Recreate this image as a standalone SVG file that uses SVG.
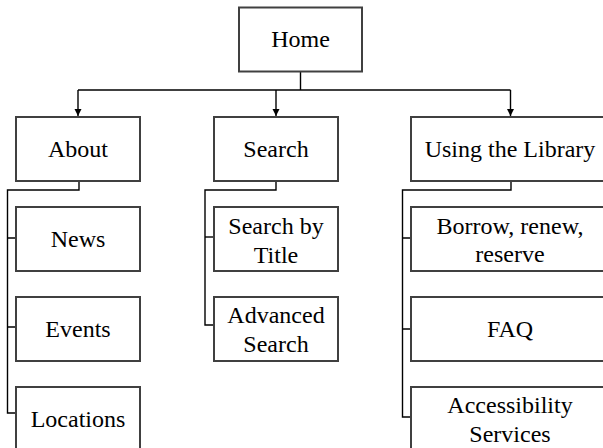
<svg xmlns="http://www.w3.org/2000/svg" width="603" height="448" viewBox="0 0 603 448">
<defs>
<style>
.box{fill:#fff;stroke:#404040;stroke-width:2}
.lbl{font-family:"Liberation Serif","Times New Roman",serif;font-size:24px;fill:#000;text-anchor:middle}
.conn{fill:none;stroke:#000;stroke-width:1.4}
</style>
<marker id="arr" viewBox="0 0 10 10" refX="10" refY="5" markerWidth="7" markerHeight="10" markerUnits="userSpaceOnUse" orient="auto">
<path d="M0,0 L10,5 L0,10 Z" fill="#000"/>
</marker>
</defs>
<rect width="603" height="448" fill="#fff"/>
<g id="connectors">
<path class="conn" d="M300.5,72 V90"/>
<path class="conn" d="M78,90 H510.5"/>
<path class="conn" d="M78,90 V116" marker-end="url(#arr)"/>
<path class="conn" d="M276,90 V116" marker-end="url(#arr)"/>
<path class="conn" d="M510.5,90 V116" marker-end="url(#arr)"/>
<path class="conn" d="M79,181 V190 H7.5 V413 H16"/>
<path class="conn" d="M7.5,238 H16 M7.5,327 H16"/>
<path class="conn" d="M276,181 V190 H205 V325 H214"/>
<path class="conn" d="M205,237 H214"/>
<path class="conn" d="M511,181 V190 H402.5 V417 H411"/>
<path class="conn" d="M402.5,238 H411 M402.5,329 H411"/>
</g>
<g id="home"><rect class="box" x="239" y="7.5" width="123" height="64"/><text class="lbl" x="300.5" y="47">Home</text></g>
<g id="about"><rect class="box" x="16" y="117" width="124" height="64"/><text class="lbl" x="78" y="157">About</text></g>
<g id="search"><rect class="box" x="214" y="117" width="124" height="64"/><text class="lbl" x="276" y="157">Search</text></g>
<g id="using"><rect class="box" x="411" y="117" width="198" height="64"/><text class="lbl" x="510" y="157">Using the Library</text></g>
<g id="news"><rect class="box" x="16" y="207" width="124" height="64"/><text class="lbl" x="78" y="247">News</text></g>
<g id="events"><rect class="box" x="16" y="297" width="124" height="64"/><text class="lbl" x="78" y="337">Events</text></g>
<g id="locations"><rect class="box" x="16" y="387" width="124" height="64"/><text class="lbl" x="78" y="427">Locations</text></g>
<g id="searchbytitle"><rect class="box" x="214" y="207" width="124" height="64"/><text class="lbl" x="276" y="233.5">Search by</text><text class="lbl" x="276" y="262.5">Title</text></g>
<g id="advanced"><rect class="box" x="214" y="297" width="124" height="64"/><text class="lbl" x="276" y="322.5">Advanced</text><text class="lbl" x="276" y="351.5">Search</text></g>
<g id="borrow"><rect class="box" x="411" y="207" width="198" height="64"/><text class="lbl" x="510" y="233.5">Borrow, renew,</text><text class="lbl" x="510" y="262">reserve</text></g>
<g id="faq"><rect class="box" x="411" y="297" width="198" height="64"/><text class="lbl" x="510" y="337">FAQ</text></g>
<g id="accessibility"><rect class="box" x="411" y="387" width="198" height="64"/><text class="lbl" x="510" y="413">Accessibility</text><text class="lbl" x="510" y="442">Services</text></g>
</svg>
